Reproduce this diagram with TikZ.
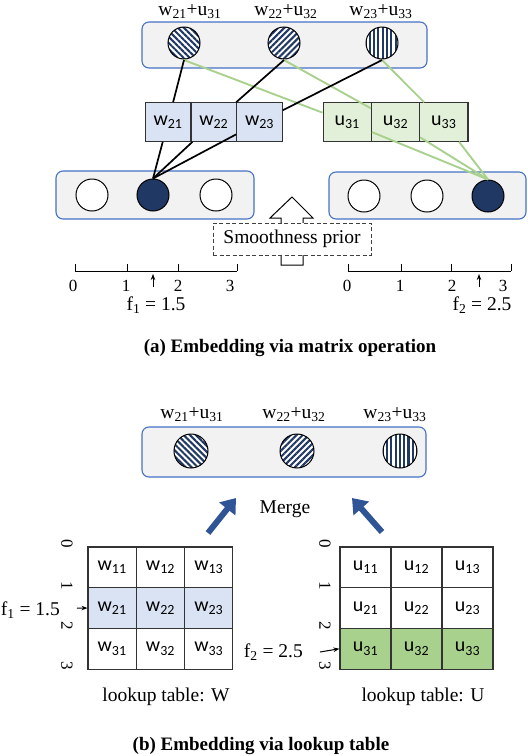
\documentclass[tikz,border=0pt]{standalone}
\usepackage{fontspec}
\setmainfont{Liberation Serif}
\newfontfamily\cellfont{Carlito}
\usetikzlibrary{patterns.meta, arrows.meta}

\definecolor{panelfill}{HTML}{F2F2F2}
\definecolor{panelblue}{HTML}{4472C4}
\definecolor{navy}{HTML}{203864}
\definecolor{wfill}{HTML}{DAE3F3}
\definecolor{ufill}{HTML}{E2F0D9}
\definecolor{ugreen}{HTML}{A9D18E}
\definecolor{mergeblue}{HTML}{2F5597}

\tikzset{
  panel/.style={draw=panelblue, fill=panelfill, line width=1.1pt, rounded corners=7pt},
  unit/.style={circle, draw, line width=1pt, minimum size=32pt, inner sep=0pt, fill=white},
  hot/.style={unit, fill=navy},
  hatch/.style={circle, draw, line width=1pt, minimum size=32pt, inner sep=0pt,
    preaction={fill=white}, pattern={Lines[angle=#1, distance=4.3pt, line width=2.1pt]}, pattern color=navy},
  cell/.style={draw=black!80, line width=1.1pt, inner sep=0pt, font=\cellfont\fontsize{20}{22}\selectfont},
  wline/.style={line width=1.7pt},
  uline/.style={ugreen, line width=1.9pt},
  idx/.style={font=\fontsize{17}{20}\selectfont},
  merge/.style={mergeblue, line width=6pt, -{Triangle[length=14pt, width=20pt]}},
  caption/.style={anchor=base, font=\bfseries\fontsize{19}{22}\selectfont}
}

\begin{document}
\begin{tikzpicture}[x=1pt, y=-1pt, font=\fontsize{19.5}{22}\selectfont]
    \useasboundingbox (0,0) rectangle (528,756);

    % (a) panels
    \draw[panel] (142,22) rectangle (427,68);
    \draw[panel] (56,171) rectangle (254,219);
    \draw[panel] (329,172) rectangle (526,219);

    % merged units
    \node[hatch=-45] (t1) at (184,43) {};
    \node[hatch=45] (t2) at (284,43) {};
    \node[hatch=90] (t3) at (382,43) {};
    \node[anchor=base] (s1) at (190,15) {w\textsubscript{21}+u\textsubscript{31}};
    \node[anchor=base] (s2) at (286,15) {w\textsubscript{22}+u\textsubscript{32}};
    \node[anchor=base] (s3) at (381,15) {w\textsubscript{23}+u\textsubscript{33}};

    % selected rows
    \foreach \k/\x in {1/168, 2/213.8, 3/259.5}
        \node[cell, fill=wfill, minimum width=45.7pt, minimum height=38.5pt] (w2\k) at (\x,122) {w\textsubscript{2\k}};
    \foreach \k/\x in {1/347.2, 2/395.5, 3/443.8}
        \node[cell, fill=ufill, minimum width=48.3pt, minimum height=38.5pt] (u3\k) at (\x,122) {u\textsubscript{3\k}};

    % one-hot inputs
    \node[unit] (l1) at (92,195) {};
    \node[hot] (l2) at (153,195) {};
    \node[unit] (l3) at (216,195) {};
    \node[unit] (r1) at (364,196) {};
    \node[unit] (r2) at (427,196) {};
    \node[hot] (r3) at (488,196) {};

    \foreach \k in {1,2,3}
        \draw[uline] (t\k.south) -- (u3\k) -- (r3.north);
    \foreach \k in {1,2,3}
        \draw[wline] (t\k.south) -- (w2\k) -- (l2.north);

    % smoothness prior
    \draw[line width=1pt, fill=white] (281,265) -- (281,218) -- (270,218) -- (292,197)
        -- (313,218) -- (303,218) -- (303,265) -- cycle;
    \node[draw=black!75, dash pattern=on 4pt off 2.5pt, fill=white, line width=1pt,
        minimum width=158pt, minimum height=32pt] (prior) at (292,239) {Smoothness prior};

    % number lines
    \draw[line width=1pt] (75,271) -- (237,271);
    \draw[line width=1pt] (348,271) -- (511,271);
    \foreach \x/\lx/\t in {75/73/0, 127/126/1, 178/178/2, 237/230/3} {
        \draw[line width=1pt] (\x,271) -- (\x,264);
        \node[idx, anchor=base, inner sep=1pt] at (\lx,291) {\t};
    }
    \foreach \x/\lx/\t in {348/347/0, 401/400/1, 451/452/2, 511/503/3} {
        \draw[line width=1pt] (\x,271) -- (\x,264);
        \node[idx, anchor=base, inner sep=1pt] at (\lx,291) {\t};
    }
    \draw[line width=1pt, -{Stealth[length=6pt, width=4.5pt]}] (153,287) -- (153,274);
    \draw[line width=1pt, -{Stealth[length=6pt, width=4.5pt]}] (479,287) -- (479,274);
    \node[anchor=base, inner sep=1pt] (f1) at (156,310) {f\textsubscript{1} = 1.5};
    \node[anchor=base, inner sep=1pt] (f2) at (482,310) {f\textsubscript{2} = 2.5};

    \node[caption] (capa) at (290,352) {(a) Embedding via matrix operation};

    % (b) merged output
    \node[anchor=base] (v1) at (192,418) {w\textsubscript{21}+u\textsubscript{31}};
    \node[anchor=base] (v2) at (294,418) {w\textsubscript{22}+u\textsubscript{32}};
    \node[anchor=base] (v3) at (395,418) {w\textsubscript{23}+u\textsubscript{33}};
    \draw[panel] (142,427) rectangle (426,477);
    \node[hatch=-45, minimum size=34pt] (m1) at (191,451) {};
    \node[hatch=45, minimum size=34pt] (m2) at (297,451) {};
    \node[hatch=90, minimum size=34pt] (m3) at (400,451) {};

    \node[anchor=base] (merge) at (285,513) {Merge};
    \coordinate (ma) at (208,533);
    \coordinate (mb) at (236,498);
    \coordinate (mc) at (382,532);
    \coordinate (md) at (352,498);
    \draw[merge] (ma) -- (mb);
    \draw[merge] (mc) -- (md);

    % lookup tables
    \fill[wfill] (88,587.7) rectangle (233,628.3);
    \fill[ugreen] (340,628.3) rectangle (493,669);
    \foreach \r in {1,2,3}
        \foreach \c in {1,2,3} {
            \node[cell, minimum width=48.3pt, minimum height=40.7pt] (W\r\c)
                at ({88+48.3*(\c-0.5)},{547+40.7*(\r-0.5)}) {w\textsubscript{\r\c}};
            \node[cell, minimum width=51pt, minimum height=40.7pt] (U\r\c)
                at ({340+51*(\c-0.5)},{547+40.7*(\r-0.5)}) {u\textsubscript{\r\c}};
        }
    \foreach \k/\y in {0/544, 1/586, 2/626, 3/666} {
        \node[idx, rotate=-90, inner sep=1pt] at (67,\y) {\k};
        \node[idx, rotate=-90, inner sep=1pt] at (325,\y) {\k};
    }
    \draw[line width=1pt, -{Stealth[length=6pt, width=4.5pt]}] (77,608) -- (W21.west);
    \draw[line width=1pt, -{Stealth[length=6pt, width=4.5pt]}] (320,652) -- (U31.west);
    \node[anchor=base east, inner sep=1pt] (g1) at (61,615) {f\textsubscript{1} = 1.5};
    \node[anchor=base east, inner sep=1pt] (g2) at (304,657) {f\textsubscript{2} = 2.5};

    \node[anchor=base] (tw) at (166,701) {lookup table: W};
    \node[anchor=base] (tu) at (423,701) {lookup table: U};

    \node[caption] (capb) at (261,750) {(b) Embedding via lookup table};
\end{tikzpicture}
\end{document}
